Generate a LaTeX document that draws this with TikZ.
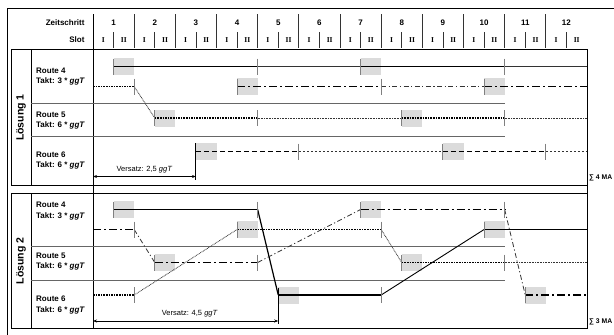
\documentclass[tikz,border=0pt]{standalone}
\usepackage{fontspec}
\setmainfont{Liberation Sans}
\newfontfamily\romfont{Liberation Serif}
\usetikzlibrary{arrows.meta}

% Ladeslot (grau) und Marke
\newcommand\ladeslot[2]{\fill[ladebox] (#1,#2-8.5) rectangle (#1+1,#2+8.5);}
\newcommand\marke[2]{\draw[marker] (#1,#2-8) -- (#1,#2+8);}

\tikzset{
  frame/.style={line width=0.9pt},
  trenner/.style={line width=1pt, draw=black!60},
  grid/.style={line width=0.8pt, draw=black!80},
  head/.style={font=\bfseries\fontsize{8}{9}\selectfont},
  slotlbl/.style={font=\romfont\bfseries\fontsize{7.5}{8}\selectfont},
  routelbl/.style={font=\bfseries\fontsize{8}{10.5}\selectfont, align=left, anchor=west, inner sep=0pt},
  loesung/.style={font=\bfseries\fontsize{10.5}{12}\selectfont, rotate=90},
  summe/.style={font=\bfseries\fontsize{6.8}{8}\selectfont, anchor=west, inner sep=0pt},
  ladebox/.style={fill=black!14},
  marker/.style={draw=black!50, line width=0.9pt},
  fahrt/.style={line width=1.8pt},
  pause/.style={line width=0.8pt, draw=black!80},
  punktA/.style={dash pattern=on 1.6pt off 1pt},
  punktL/.style={dash pattern=on 0.8pt off 0.8pt},
  strichA/.style={dash pattern=on 5.5pt off 2.5pt},
  strichL/.style={dash pattern=on 2.5pt off 1.5pt},
  spA/.style={dash pattern=on 8pt off 3pt on 2pt off 3pt},
  spL/.style={dash pattern=on 5pt off 2.5pt on 1.2pt off 2.5pt},
  versatz/.style={line width=0.8pt, {Stealth[length=4pt,width=3pt]}-{Stealth[length=4pt,width=3pt]}},
}

\begin{document}
\begin{tikzpicture}[x=1pt, y=-1pt]
  \useasboundingbox (0,0) rectangle (614,335);
  \clip (0,0) rectangle (614,335);

  % Rahmen
  \draw[frame] (620,8) -- (7,8) -- (7,340);
  \draw[frame] (11,49.5) rectangle (587,185);
  \draw[frame] (11,193.5) rectangle (587,328);
  \draw[frame] (31,49.5) -- (31,185) (31,193.5) -- (31,328);
  \draw[frame] (93,14) -- (93,328);
  \draw[frame] (587,185) -- (587,193.5);

  % Kopfzeile
  \node[head, anchor=east] (zeit) at (88,23) {Zeitschritt};
  \node[head, anchor=east] (slot) at (88,40) {Slot};

  % Beschriftung links
  \node[loesung] (loes1) at (21,117.5) {Lösung 1};
  \node[loesung] (loes2) at (21,261) {Lösung 2};
  \node[routelbl] (l1r4) at (36,76.5) {Route 4\\Takt: 3 * \textit{ggT}};
  \node[routelbl] (l1r5) at (36,120.5) {Route 5\\Takt: 6 * \textit{ggT}};
  \node[routelbl] (l1r6) at (36,160.5) {Route 6\\Takt: 6 * \textit{ggT}};
  \node[routelbl] (l2r4) at (36,211) {Route 4\\Takt: 3 * \textit{ggT}};
  \node[routelbl] (l2r5) at (36,261.5) {Route 5\\Takt: 6 * \textit{ggT}};
  \node[routelbl] (l2r6) at (36,305) {Route 6\\Takt: 6 * \textit{ggT}};

  % Summen rechts
  \node[summe] (sum1) at (589,178) {∑ 4 MA};
  \node[summe] (sum2) at (589,322) {∑ 3 MA};

  \begin{scope}[xshift=93pt, x=20.5833pt]
    % Zeitschritte und Slots
    \foreach \k in {1,...,12} {
      \node[head] (step\k) at (2*\k-1,23) {\k};
      \node[slotlbl] (sI\k) at (2*\k-1.5,40) {I};
      \node[slotlbl] (sII\k) at (2*\k-0.5,40) {II};
      \draw[grid] (2*\k-1,32) -- (2*\k-1,48);
    }
    \foreach \k in {1,...,11}
      \draw[grid] (2*\k,14) -- (2*\k,48);

    % Zeilentrenner
    \draw[trenner] (-3,103) -- (20,103) (-3,136) -- (20,136);
    \draw[trenner] (-3,246.5) -- (20,246.5) (-3,280) -- (20,280);

    % ---------- Lösung 1 ----------
    \ladeslot{1}{66.5} \ladeslot{13}{66.5}
    \ladeslot{7}{86.5} \ladeslot{19}{86.5}
    \ladeslot{3}{118} \ladeslot{15}{118}
    \ladeslot{5}{151.5} \ladeslot{17}{151.5}

    % Fahrzeug 1 (durchgezogen)
    \draw[fahrt] (1,66.5) -- (8,66.5);
    \draw[pause] (8,66.5) -- (13,66.5);
    \draw[fahrt] (13,66.5) -- (20,66.5);
    \draw[pause] (20,66.5) -- (24,66.5);
    % Fahrzeug 2 (Strich-Punkt)
    \draw[fahrt, spA] (7,86.5) -- (14,86.5);
    \draw[pause, spL] (14,86.5) -- (19,86.5);
    \draw[fahrt, spA] (19,86.5) -- (24,86.5);
    % Fahrzeug 3 (punktiert)
    \draw[fahrt, punktA] (0,86.5) -- (2,86.5);
    \draw[pause, punktL] (2,86.5) -- (3,118);
    \draw[fahrt, punktA] (3,118) -- (8,118);
    \draw[pause, punktL] (8,118) -- (15,118);
    \draw[fahrt, punktA] (15,118) -- (20,118);
    \draw[pause, punktL] (20,118) -- (24,118);
    % Fahrzeug 4 (gestrichelt)
    \draw[fahrt, strichA] (5,151.5) -- (10,151.5);
    \draw[pause, strichL] (10,151.5) -- (17,151.5);
    \draw[fahrt, strichA] (17,151.5) -- (22,151.5);
    \draw[pause, strichL] (22,151.5) -- (24,151.5);

    \marke{1}{66.5} \marke{8}{66.5} \marke{13}{66.5} \marke{20}{66.5}
    \marke{7}{86.5} \marke{14}{86.5} \marke{19}{86.5} \marke{2}{86.5}
    \marke{3}{118} \marke{8}{118} \marke{15}{118} \marke{20}{118}
    \marke{10}{151.5} \marke{17}{151.5} \marke{22}{151.5}

    % Versatz
    \draw[frame] (5,143) -- (5,180);
    \draw[versatz] (0,176.5) -- (5,176.5);
    \node[font=\fontsize{7.5}{9}\selectfont] (vers1) at (2.5,170) {Versatz: 2,5 \textit{ggT}};

    % ---------- Lösung 2 ----------
    \ladeslot{1}{209.5} \ladeslot{13}{209.5}
    \ladeslot{7}{229.5} \ladeslot{19}{229.5}
    \ladeslot{3}{262.5} \ladeslot{15}{262.5}
    \ladeslot{9}{295} \ladeslot{21}{295}

    % Fahrzeug 1 (durchgezogen)
    \draw[fahrt] (1,209.5) -- (8,209.5);
    \draw[line width=1.2pt] (8,209.5) -- (9,295);
    \draw[fahrt] (9,295) -- (14,295);
    \draw[line width=0.9pt] (14,295) -- (19,229.5);
    \draw[fahrt] (19,229.5) -- (24,229.5);
    % Fahrzeug 2 (Strich-Punkt)
    \draw[fahrt, spA] (0,229.5) -- (2,229.5);
    \draw[pause, spL] (2,229.5) -- (3,262.5);
    \draw[fahrt, spA] (3,262.5) -- (8,262.5);
    \draw[pause, spL] (8,262.5) -- (13,209.5);
    \draw[fahrt, spA] (13,209.5) -- (20,209.5);
    \draw[pause, spL] (20,209.5) -- (21,295);
    \draw[fahrt, spA] (21,295) -- (24,295);
    % Fahrzeug 3 (punktiert)
    \draw[fahrt, punktA] (0,295) -- (2,295);
    \draw[pause, punktL] (2,295) -- (7,229.5);
    \draw[fahrt, punktA] (7,229.5) -- (14,229.5);
    \draw[pause, punktL] (14,229.5) -- (15,262.5);
    \draw[fahrt, punktA] (15,262.5) -- (20,262.5);
    \draw[pause, punktL] (20,262.5) -- (24,262.5);

    \marke{1}{209.5} \marke{8}{209.5} \marke{13}{209.5} \marke{20}{209.5}
    \marke{2}{229.5} \marke{7}{229.5} \marke{14}{229.5} \marke{19}{229.5}
    \marke{3}{262.5} \marke{8}{262.5} \marke{15}{262.5} \marke{20}{262.5}
    \marke{2}{295} \marke{14}{295} \marke{21}{295}

    % Versatz
    \draw[frame] (9,288) -- (9,324);
    \draw[versatz] (0,321) -- (9,321);
    \node[font=\fontsize{7.5}{9}\selectfont] (vers2) at (4.7,313.5) {Versatz: 4,5 \textit{ggT}};
  \end{scope}
\end{tikzpicture}
\end{document}
